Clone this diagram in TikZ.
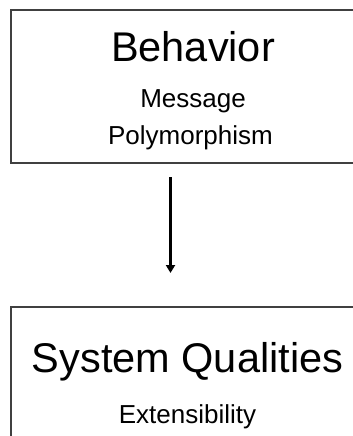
\documentclass[tikz,border=0pt]{standalone}
\usepackage{fontspec}
\setmainfont{Liberation Sans}
\usetikzlibrary{arrows.meta}
\begin{document}
\begin{tikzpicture}[x=1pt,y=-1pt,
  panel/.style={draw=black!75, line width=1.1pt, minimum width=358pt, inner sep=0pt},
  heading/.style={anchor=base, inner sep=0pt, font=\fontsize{41.5}{45}\selectfont},
  item/.style={anchor=base, inner sep=0pt, font=\fontsize{26}{30}\selectfont},
  flow/.style={line width=2.5pt, -{Triangle[width=9pt,length=8pt]}}]
  \useasboundingbox (0,0) rectangle (353,436);
  % upper panel
  \node[panel, minimum height=153pt] (behavior) at (190,86.5) {};
  \node[heading] (behtitle) at (193,61) {Behavior};
  \node[item] (message) at (193,107.5) {Message};
  \node[item] (poly) at (190.5,144) {Polymorphism};
  % lower panel, running past the lower edge
  \node[panel, minimum height=160pt] (qualities) at (190,387) {};
  \node[heading] (qualtitle) at (187.5,372.7) {System Qualities};
  \node[item] (ext) at (187.5,423.3) {Extensibility};
  % connector between the panels
  \coordinate (from) at (170.5,177);
  \coordinate (to) at (170.5,273);
  \draw[flow] (from) -- (to);
\end{tikzpicture}
\end{document}
